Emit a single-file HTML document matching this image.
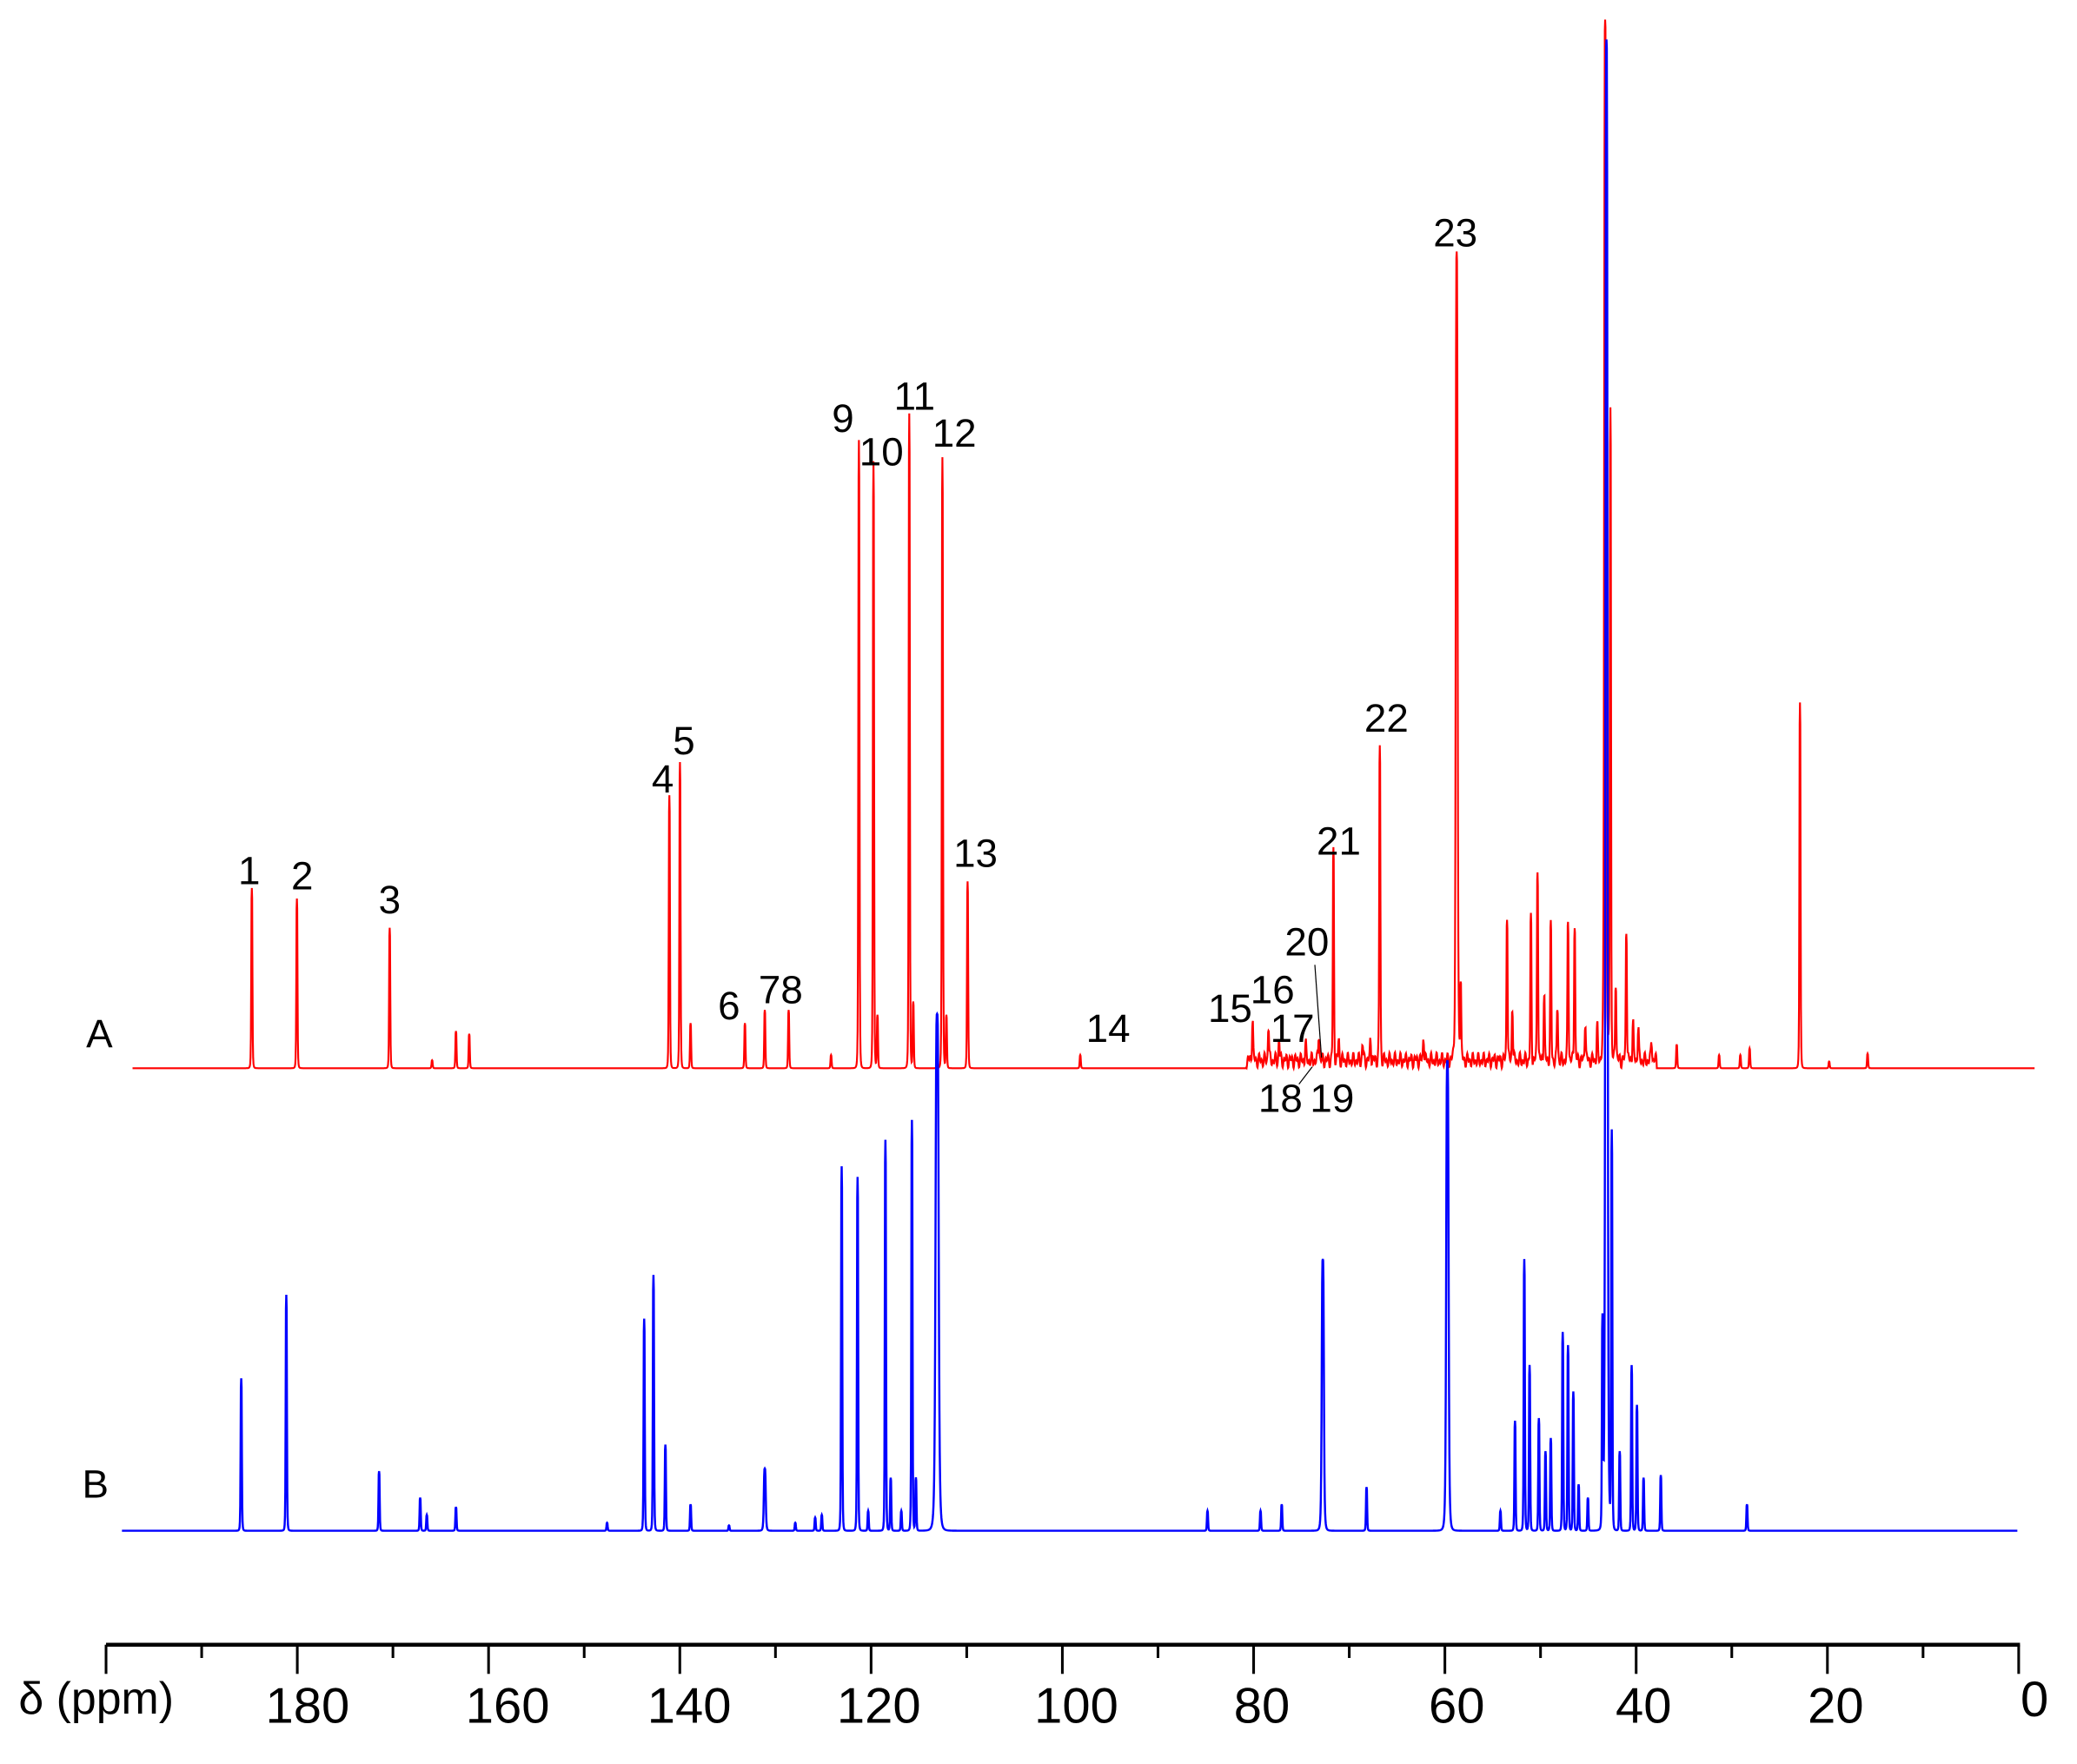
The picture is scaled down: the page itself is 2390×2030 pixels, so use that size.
<!DOCTYPE html>
<html><head><meta charset="utf-8"><style>
html,body{margin:0;padding:0;background:#fff;}
svg{display:block;}
text{font-family:"Liberation Sans",sans-serif;fill:#000;}
</style></head><body>
<svg id="s" width="2390" height="2030" viewBox="0 0 1567 1331" preserveAspectRatio="none" xmlns="http://www.w3.org/2000/svg">
<rect width="1567" height="1331" fill="#fff"/>
<path id="red" fill="none" stroke="#f00" stroke-width="1.4"/>
<path id="blue" fill="none" stroke="#00f" stroke-width="1.6"/>
<g font-size="30" text-anchor="middle">
<text x="188" y="667">1</text><text x="228" y="671">2</text><text x="294" y="689">3</text>
<text x="500" y="598">4</text><text x="516" y="569">5</text><text x="550" y="769">6</text>
<text x="589" y="757">78</text><text x="636" y="326">9</text><text x="665" y="351">10</text>
<text x="690" y="309">11</text><text x="720" y="337">12</text><text x="736" y="654">13</text>
<text x="836" y="786">14</text><text x="928" y="771">15</text><text x="960" y="757">16</text>
<text x="975" y="786">17</text><text x="966" y="839">18</text><text x="1005" y="839">19</text>
<text x="986" y="721">20</text><text x="1010" y="645">21</text><text x="1046" y="552">22</text>
<text x="1098" y="186">23</text>
<text x="75" y="790">A</text><text x="72" y="1130">B</text>
</g>
<line x1="992" y1="728" x2="997" y2="798" stroke="#000" stroke-width="0.8"/>
<line x1="980" y1="818" x2="990" y2="805" stroke="#000" stroke-width="0.8"/>
<line x1="80" y1="1241" x2="1524" y2="1241" stroke="#000" stroke-width="3"/>
<g id="ticks" stroke="#000" stroke-width="2"></g>
<g font-size="38" text-anchor="middle">
<text x="232" y="1300">180</text><text x="383" y="1300">160</text><text x="520" y="1300">140</text>
<text x="663" y="1300">120</text><text x="812" y="1300">100</text><text x="952" y="1300">80</text>
<text x="1099" y="1300">60</text><text x="1240" y="1300">40</text><text x="1385" y="1300">20</text>
<text x="1535" y="1295">0</text>
</g>
<text x="14" y="1293" font-size="34">δ (ppm)</text>
</svg>
<script>
function spec(base,x0,x1,peaks,noise){
  let d="";
  for(let x=x0;x<=x1;x+=0.25){
    let y=0;
    for(const p of peaks){const g=p[2]||0.5;const dx=(x-p[0])/g;y+=p[1]/(1+dx*dx*dx*dx);}
    if(noise){for(const n of noise){if(x>n[0]&&x<n[1]){y+=n[2]*(0.5+0.5*Math.sin(x*2.3)*Math.sin(x*0.7));}}}
    d+=(d?"L":"M")+x.toFixed(2)+" "+(base-y).toFixed(2);
  }
  return d;
}
const rb=806;
const red=[[190,rb-670],[224,rb-678],[294,rb-700],[326,6],[344,rb-778],[354,rb-780],[505,rb-600],[513,rb-575],[521,rb-772],[562,rb-772],[577,rb-762],[595,rb-762],[627,10],
[648,rb-332],[659,rb-348],[662,40],[686,rb-312],[689,50],[711,rb-345],[714,40],[730,rb-665],[815,10],[945,rb-775],[957,rb-780],[965,15],[985,12],[995,20],[1006,rb-648],[1010,15],[1028,12],[1034,15],[1041,rb-568],[1074,18],
[1099,rb-198,0.8],[1102,60],[1137,rb-695],[1141,40],[1155,rb-700],[1160,rb-660],[1165,50],[1170,rb-705],[1175,40],[1183,rb-700],[1188,rb-703],[1196,30],[1205,25],
[1211,rb-18,0.8],[1215,rb-310],[1219,60],[1227,rb-706],[1232,30],[1236,25],[1246,15],[1265,18],[1297,10],[1313,10],[1320,15],[1358,rb-530],[1380,5],[1409,rb-795]];
document.getElementById("red").setAttribute("d",spec(rb,100,1535,red,[[940,1250,12]]));
const bb=1155;
const blue=[[182,bb-1040],[216,bb-977],[286,bb-1110],[317,bb-1130],[322,12],[344,bb-1137],[458,6],[486,bb-995],[493,bb-962],[502,bb-1090],[521,bb-1135],[550,4],[577,bb-1108,0.8],[600,6],[615,10],[620,12],
[635,bb-880],[647,bb-888],[655,15],[668,bb-860],[672,40],[680,15],[688,bb-845],[691,40],[707,bb-765,1.3],[911,bb-1140],[951,bb-1140],[967,bb-1135],[998,bb-950,0.9],[1031,bb-1122],[1092,bb-800,1.0],[1132,15],
[1143,bb-1072],[1150,bb-950],[1154,bb-1030],[1161,bb-1070],[1166,60],[1170,bb-1085],[1179,bb-1005],[1183,bb-1015],[1187,bb-1050],[1191,35],[1198,25],
[1209,bb-1000],[1212,bb-30,0.9],[1216,300],[1222,60],[1231,bb-1030],[1235,bb-1060],[1240,40],[1253,bb-1113],[1318,bb-1135]];
document.getElementById("blue").setAttribute("d",spec(bb,92,1522,blue,null));
const g=document.getElementById("ticks");let h="";
for(let i=0;i<=20;i++){const x=80+i*(1523-80)/20;const len=i%2==0?22:10;h+=`<line x1="${x}" y1="1241" x2="${x}" y2="${1241+len}"/>`;}
g.innerHTML=h;
</script>
</body></html>
